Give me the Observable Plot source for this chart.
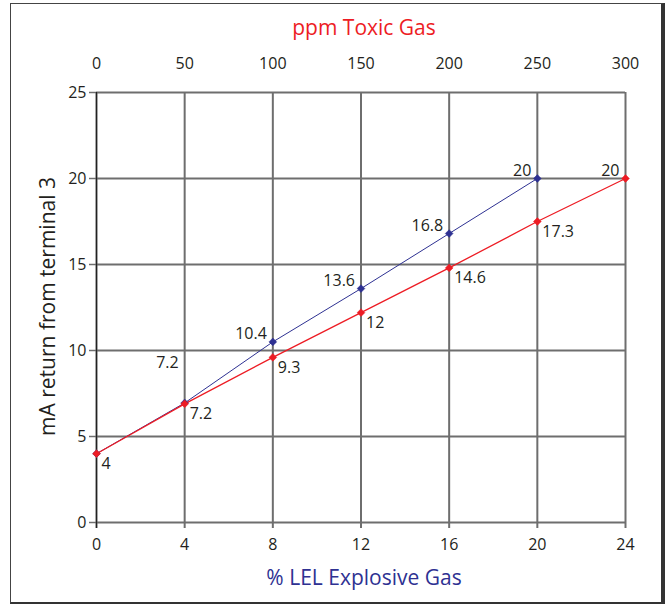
<!DOCTYPE html>
<html>
<head>
<meta charset="utf-8">
<script src="https://cdn.jsdelivr.net/npm/d3@7"></script>
<script src="https://cdn.jsdelivr.net/npm/@observablehq/plot@0.6"></script>
<style>
  html, body { margin: 0; padding: 0; background: #fff; }
  #wrap { position: relative; width: 671px; height: 605px; }
  #box { position: absolute; left: 10px; top: 3px; width: 655px; height: 601px;
         border: 1.5px solid #444; border-right: 4px solid #333; border-bottom: 2px solid #333; box-sizing: border-box; }
  #chart { position: absolute; left: 0; top: 0; }
</style>
</head>
<body>
<div id="wrap"><div id="box"></div><div id="chart"></div></div>
<script>
// % LEL Explosive Gas (bottom axis) – red series
const lel = [0, 4, 8, 12, 16, 20, 24];
const redValues = [4, 6.9, 9.6, 12.2, 14.8, 17.5, 20];
const redLabels = ["4", "7.2", "9.3", "12", "14.6", "17.3", "20"];

// ppm Toxic Gas (top axis) – blue series
const ppm = [0, 50, 100, 150, 200, 250];
const blueValues = [4, 6.95, 10.5, 13.6, 16.8, 20];
const blueLabels = ["", "7.2", "10.4", "13.6", "16.8", "20"];

const lelTicks = [0, 4, 8, 12, 16, 20, 24];
const yTicks = [0, 5, 10, 15, 20, 25];
const ppmPerLel = 300 / 24; // top axis 0–300 spans bottom axis 0–24

const RED = "#ed1c24", BLUE = "#2e3192", GRID = "#6e6e6e", TXT = "#231f20";

const red = lel.map((x, i) => ({x, y: redValues[i], label: redLabels[i]}));
const blue = ppm.map((p, i) => ({x: p / ppmPerLel, y: blueValues[i], label: blueLabels[i]}));

const redBelow = red.slice(0, red.length - 1);
const redAbove = red.slice(red.length - 1);
const blueFirst = blue.filter(d => d.label === "7.2");
const blueRest = blue.filter(d => d.label !== "" && d.label !== "7.2");

const font = "'Open Sans', 'Noto Sans', sans-serif";

const chart = Plot.plot({
  width: 671,
  height: 605,
  marginLeft: 96,
  marginRight: 46,
  marginTop: 92,
  marginBottom: 83,
  style: {fontFamily: font, fontSize: "16px", color: TXT, background: "transparent"},
  x: {domain: [0, 24]},
  y: {domain: [0, 25]},
  marks: [
    Plot.gridX(lelTicks, {stroke: GRID, strokeOpacity: 1, strokeWidth: 2}),
    Plot.gridY(yTicks, {stroke: GRID, strokeOpacity: 1, strokeWidth: 2}),
    Plot.axisX(lelTicks, {anchor: "bottom", label: null, tickSize: 6, tickPadding: 10, stroke: GRID, strokeWidth: 2, fill: TXT, fontSize: 16}),
    Plot.axisX(lelTicks, {anchor: "top", label: null, tickSize: 0, tickPadding: 24, tickFormat: d => d * ppmPerLel, fill: TXT, fontSize: 16}),
    Plot.axisY(yTicks, {anchor: "left", label: null, tickSize: 7, tickPadding: 3, stroke: GRID, strokeWidth: 1.5, fill: TXT, fontSize: 16}),
    Plot.ruleX([0], {y1: -0.35, y2: 25, stroke: "#222", strokeWidth: 1.2}),
    Plot.line(blue, {x: "x", y: "y", stroke: BLUE, strokeWidth: 1}),
    Plot.line(red, {x: "x", y: "y", stroke: RED, strokeWidth: 1.3}),
    Plot.dot(blue, {x: "x", y: "y", symbol: "diamond2", r: 3.5, fill: BLUE, stroke: BLUE, strokeWidth: 0.5}),
    Plot.dot(red, {x: "x", y: "y", symbol: "diamond2", r: 3.5, fill: RED, stroke: RED, strokeWidth: 0.5}),
    Plot.text(redBelow, {x: "x", y: "y", text: "label", textAnchor: "start", dx: 5, dy: 10, fill: TXT, fontSize: 16}),
    Plot.text(redAbove, {x: "x", y: "y", text: "label", textAnchor: "end", dx: -6, dy: -8, fill: TXT, fontSize: 16}),
    Plot.text(blueRest, {x: "x", y: "y", text: "label", textAnchor: "end", dx: -6, dy: -8, fill: TXT, fontSize: 16}),
    Plot.text(blueFirst, {x: "x", y: "y", text: "label", textAnchor: "end", dx: -6, dy: -40, fill: TXT, fontSize: 16}),
    Plot.text(["ppm Toxic Gas"], {frameAnchor: "top", lineAnchor: "middle", textAnchor: "middle", dx: 3, dy: -64, fill: RED, fontSize: 21}),
    Plot.text(["% LEL Explosive Gas"], {frameAnchor: "bottom", lineAnchor: "middle", textAnchor: "middle", dx: 3, dy: 56, fill: BLUE, fontSize: 21}),
    Plot.text(["mA return from terminal 3"], {frameAnchor: "left", lineAnchor: "middle", textAnchor: "middle", dx: -48, dy: -1, rotate: -90, fill: TXT, fontSize: 21})
  ]
});
document.getElementById("chart").appendChild(chart);
</script>
</body>
</html>
